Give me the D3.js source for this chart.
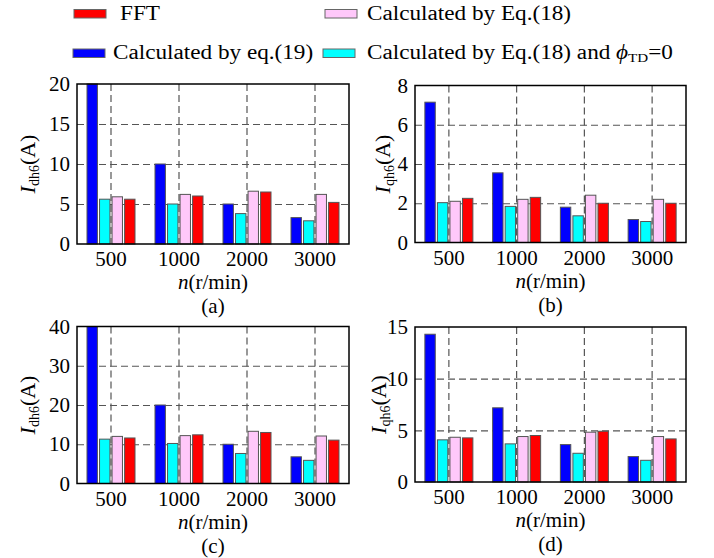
<!DOCTYPE html>
<html>
<head>
<meta charset="utf-8">
<script src="https://cdn.jsdelivr.net/npm/d3@7"></script>
<style>
  body { margin: 0; background: #fff; }
  svg text { font-family: 'Liberation Serif', 'Times New Roman', serif; fill: #000; }
</style>
</head>
<body>
<svg id="chart" width="714" height="558"></svg>
<script>
// categories
const speeds = ['500', '1000', '2000', '3000']
const seriesNames = ['Calculated by eq.(19)', 'Calculated by Eq.(18) and ϕTD=0', 'Calculated by Eq.(18)', 'FFT']

// (a) I_dh6, load 1
const aEq19 = [20, 10, 5.0, 3.3]
const aEq18Phi0 = [5.6, 5.0, 3.8, 2.9]
const aEq18 = [5.9, 6.2, 6.6, 6.2]
const aFFT = [5.6, 6.0, 6.5, 5.2]
const aTicks = [0, 5, 10, 15, 20]

// (b) I_qh6, load 1
const bEq19 = [7.15, 3.55, 1.8, 1.17]
const bEq18Phi0 = [2.03, 1.84, 1.36, 1.07]
const bEq18 = [2.1, 2.2, 2.41, 2.2]
const bFFT = [2.25, 2.3, 2.0, 2.0]
const bTicks = [0, 2, 4, 6, 8]

// (c) I_dh6, load 2
const cEq19 = [40, 20, 10, 6.8]
const cEq18Phi0 = [11.3, 10.2, 7.65, 5.9]
const cEq18 = [12.0, 12.2, 13.3, 12.1]
const cFFT = [11.6, 12.4, 13.0, 11.05]
const cTicks = [0, 10, 20, 30, 40]

// (d) I_qh6, load 2
const dEq19 = [14.3, 7.18, 3.62, 2.46]
const dEq18Phi0 = [4.08, 3.69, 2.78, 2.1]
const dEq18 = [4.33, 4.4, 4.82, 4.4]
const dFFT = [4.27, 4.5, 4.91, 4.17]
const dTicks = [0, 5, 10, 15]

const COLORS = ['#0000ff', '#00ffff', '#ffc8fa', '#ff0000']
const FONT = 21

const panels = [
  { tag: '(a)', sub: 'dh6', x: 77, y: 84, w: 272, h: 160, ticks: aTicks, series: [aEq19, aEq18Phi0, aEq18, aFFT], labelDx: 50 },
  { tag: '(b)', sub: 'qh6', x: 415, y: 85.5, w: 271, h: 157, ticks: bTicks, series: [bEq19, bEq18Phi0, bEq18, bFFT], labelDx: 33 },
  { tag: '(c)', sub: 'dh6', x: 77, y: 326.5, w: 272, h: 157, ticks: cTicks, series: [cEq19, cEq18Phi0, cEq18, cFFT], labelDx: 50 },
  { tag: '(d)', sub: 'qh6', x: 415, y: 327, w: 271, h: 155, ticks: dTicks, series: [dEq19, dEq18Phi0, dEq18, dFFT], labelDx: 37 }
]

const svg = d3.select('#chart')

panels.forEach(p => {
  const g = svg.append('g').attr('transform', `translate(${p.x}, ${p.y})`)

  const xScale = d3.scaleBand().domain(speeds).range([0, p.w])
  const inner = d3.scaleBand().domain(d3.range(4)).range([-24, 24]).paddingInner(0.17)
  const yScale = d3.scaleLinear().domain([0, d3.max(p.ticks)]).range([p.h, 0])

  // horizontal grid
  g.append('g')
    .attr('class', 'grid')
    .call(d3.axisLeft(yScale).tickValues(p.ticks.slice(1, -1)).tickSize(-p.w).tickFormat(''))
    .call(s => s.select('.domain').remove())
    .selectAll('line')
    .attr('stroke', '#555')
    .attr('stroke-width', 1.2)
    .attr('stroke-dasharray', '7,4')

  // vertical grid at category centres
  g.append('g')
    .attr('class', 'grid')
    .call(d3.axisTop(xScale).tickSize(-p.h).tickFormat(''))
    .call(s => s.select('.domain').remove())
    .selectAll('line')
    .attr('stroke', '#555')
    .attr('stroke-width', 1.2)
    .attr('stroke-dasharray', '7,4')

  // bars
  p.series.forEach((vals, si) => {
    g.selectAll(null)
      .data(vals)
      .enter()
      .append('rect')
      .attr('x', (d, i) => xScale(speeds[i]) + xScale.bandwidth() / 2 + inner(si))
      .attr('width', inner.bandwidth())
      .attr('y', d => yScale(d))
      .attr('height', d => p.h - yScale(d))
      .attr('fill', COLORS[si])
      .attr('stroke', '#555')
      .attr('stroke-width', 1)
  })

  // frame
  g.append('rect')
    .attr('width', p.w).attr('height', p.h)
    .attr('fill', 'none').attr('stroke', '#000').attr('stroke-width', 1.5)

  // y tick labels
  g.append('g')
    .call(d3.axisLeft(yScale).tickValues(p.ticks).tickSize(0).tickPadding(7))
    .call(s => s.select('.domain').remove())
    .selectAll('text')
    .attr('font-size', FONT)

  // x tick labels
  g.append('g')
    .attr('transform', `translate(0, ${p.h})`)
    .call(d3.axisBottom(xScale).tickSize(0).tickPadding(0))
    .call(s => s.select('.domain').remove())
    .selectAll('text')
    .attr('dy', null)
    .attr('y', 22)
    .attr('font-size', FONT)

  // x label
  const xl = g.append('text')
    .attr('x', p.w / 2).attr('y', p.h + 45)
    .attr('text-anchor', 'middle')
    .attr('font-size', 21)
  xl.append('tspan').attr('font-style', 'italic').text('n')
  xl.append('tspan').text('(r/min)')

  // panel tag
  g.append('text')
    .attr('x', p.w / 2).attr('y', p.h + 69)
    .attr('text-anchor', 'middle')
    .attr('font-size', 21)
    .text(p.tag)

  // y label
  const yl = g.append('text')
    .attr('transform', `translate(${-p.labelDx}, ${p.h / 2}) rotate(-90)`)
    .attr('text-anchor', 'middle')
    .attr('dy', '0.35em')
    .attr('font-size', 22)
  yl.append('tspan').attr('font-style', 'italic').text('I')
  yl.append('tspan').attr('font-size', 14).attr('dy', 4).text(p.sub)
  yl.append('tspan').attr('dy', -4).text('(A)')
})

// legend
const legendItems = [
  { name: seriesNames[3], color: COLORS[3], rx: 74, tx: 120, y: 9.5, ty: 19.5 },
  { name: seriesNames[2], color: COLORS[2], rx: 325, tx: 367, y: 9.5, ty: 19.5 },
  { name: seriesNames[0], color: COLORS[0], rx: 73, tx: 113, y: 49, ty: 58.5 },
  { name: seriesNames[1], color: COLORS[1], rx: 323, tx: 367, y: 49, ty: 58.5 }
]

const legend = svg.append('g').attr('class', 'legend')

legendItems.forEach(it => {
  legend.append('rect')
    .attr('x', it.rx).attr('y', it.y)
    .attr('width', 32).attr('height', 8.5)
    .attr('fill', it.color)
    .attr('stroke', '#666').attr('stroke-width', 1)

  const t = legend.append('text')
    .attr('transform', `translate(${it.tx}, ${it.ty}) scale(1.16, 1)`)
    .attr('font-size', 20)
  if (it.name.includes('ϕTD')) {
    t.append('tspan').text('Calculated by Eq.(18) and ')
    t.append('tspan').attr('font-style', 'italic').text('ϕ')
    t.append('tspan').attr('font-size', 13).attr('dy', 3).text('TD')
    t.append('tspan').attr('dy', -3).text('=0')
  } else {
    t.text(it.name)
  }
})
</script>
</body>
</html>
